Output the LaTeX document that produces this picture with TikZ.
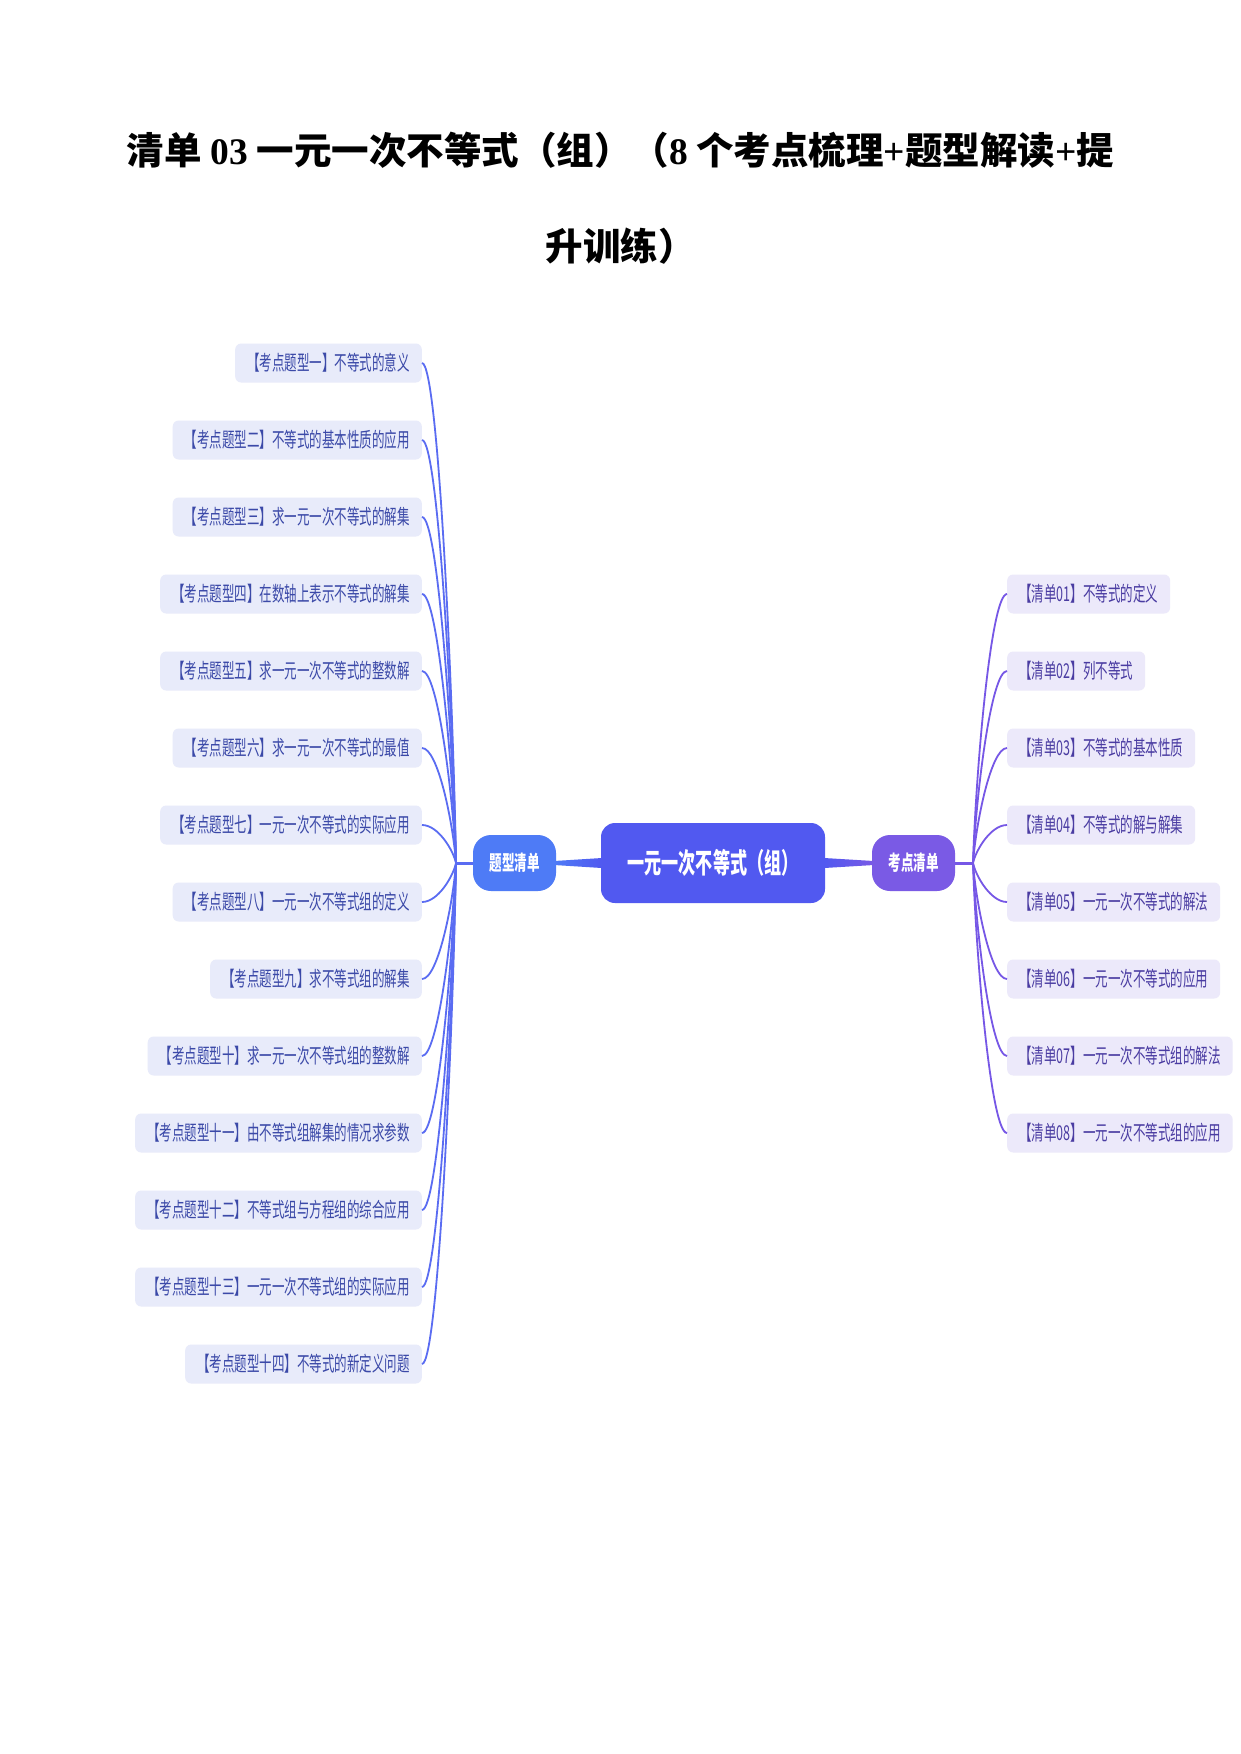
\documentclass[tikz,border=0pt]{standalone}
\usepackage{fontspec}
\usetikzlibrary{calc}
\newfontfamily\cjkt{Noto Sans CJK SC}
\newfontfamily\cjkc[FakeStretch=0.61]{Noto Sans CJK SC}
\newfontfamily\serift{Liberation Serif}
\definecolor{centrecol}{HTML}{5159F0}
\definecolor{tcol}{HTML}{4E7BF6}
\definecolor{kcol}{HTML}{7A5AE5}
\definecolor{lline}{HTML}{5A6CF2}
\definecolor{rline}{HTML}{7657E6}
\definecolor{lfill}{HTML}{E8EBFA}
\definecolor{rfill}{HTML}{ECE9FA}
\definecolor{ltext}{HTML}{3B49A8}
\definecolor{rtext}{HTML}{4A3CA2}
\tikzset{
  titlestyle/.style={font=\cjkt\bfseries\fontsize{37.5}{40}\selectfont, inner sep=0pt, text=black},
  centrestyle/.style={fill=centrecol, text=white, rounded corners=14pt, minimum width=224pt, minimum height=80pt, inner sep=0pt, font=\cjkc\bfseries\fontsize{28}{30}\selectfont},
  branchstyle/.style={text=white, rounded corners=18pt, minimum width=83pt, minimum height=56pt, inner sep=0pt, font=\cjkc\bfseries\fontsize{20.5}{22}\selectfont},
  lbox/.style={fill=lfill, text=ltext, rounded corners=6pt, minimum height=39pt, inner ysep=0pt, inner xsep=12pt, font=\cjkc\fontsize{20.5}{22}\selectfont, anchor=east},
  rbox/.style={fill=rfill, text=rtext, rounded corners=6pt, minimum height=39pt, inner ysep=0pt, inner xsep=12pt, font=\cjkc\fontsize{20.5}{22}\selectfont, anchor=west},
  lconn/.style={draw=lline, line width=1.8pt},
  rconn/.style={draw=rline, line width=1.8pt},
}
\begin{document}
\begin{tikzpicture}[x=1pt,y=-1pt]
\useasboundingbox (0,0) rectangle (1241,1754);
\fill[white] (0,0) rectangle (1241,1754);

\node[titlestyle] (t1) at (620.5,150) {清单 {\serift\bfseries 03} 一元一次不等式（组）（{\serift\bfseries 8} 个考点梳理{\serift\bfseries +}题型解读{\serift\bfseries +}提};
\node[titlestyle] (t2) at (620.5,246) {升训练）};

\node[centrestyle] (C) at (713,863) {一元一次不等式（组）};
\node[branchstyle, fill=tcol] (T) at (514.5,863) {题型清单};
\node[branchstyle, fill=kcol] (K) at (913.5,863) {考点清单};

\coordinate (JL) at (456,863);
\coordinate (JR) at (973,863);

\shade[left color=tcol, right color=centrecol] ($(T.east)+(-2,-2)$) -- ($(C.west)+(1,-5)$) -- ($(C.west)+(1,5)$) -- ($(T.east)+(-2,2)$) -- cycle;
\shade[left color=centrecol, right color=kcol] ($(C.east)+(-1,-5)$) -- ($(K.west)+(2,-2)$) -- ($(K.west)+(2,2)$) -- ($(C.east)+(-1,5)$) -- cycle;

\draw[lconn, line width=3pt] (T.west) -- (JL);
\draw[rconn, line width=3pt] (K.east) -- (JR);

\foreach \i/\txt in {
 1/{【考点题型一】不等式的意义},
 2/{【考点题型二】不等式的基本性质的应用},
 3/{【考点题型三】求一元一次不等式的解集},
 4/{【考点题型四】在数轴上表示不等式的解集},
 5/{【考点题型五】求一元一次不等式的整数解},
 6/{【考点题型六】求一元一次不等式的最值},
 7/{【考点题型七】一元一次不等式的实际应用},
 8/{【考点题型八】一元一次不等式组的定义},
 9/{【考点题型九】求不等式组的解集},
 10/{【考点题型十】求一元一次不等式组的整数解},
 11/{【考点题型十一】由不等式组解集的情况求参数},
 12/{【考点题型十二】不等式组与方程组的综合应用},
 13/{【考点题型十三】一元一次不等式组的实际应用},
 14/{【考点题型十四】不等式的新定义问题}} {
  \pgfmathsetmacro\yy{363+77*(\i-1)}
  \pgfmathsetmacro\dy{(\yy-863)*0.35}
  \node[lbox] (L\i) at (422,\yy) {\txt};
  \draw[lconn] (L\i.east) .. controls ($(L\i.east)+(16,0)$) and ($(JL)+(-3,\dy)$) .. (JL);
}

\foreach \i/\txt in {
 1/{【清单01】不等式的定义},
 2/{【清单02】列不等式},
 3/{【清单03】不等式的基本性质},
 4/{【清单04】不等式的解与解集},
 5/{【清单05】一元一次不等式的解法},
 6/{【清单06】一元一次不等式的应用},
 7/{【清单07】一元一次不等式组的解法},
 8/{【清单08】一元一次不等式组的应用}} {
  \pgfmathsetmacro\yy{594+77*(\i-1)}
  \pgfmathsetmacro\dy{(\yy-863)*0.35}
  \node[rbox] (R\i) at (1007,\yy) {\txt};
  \draw[rconn] (R\i.west) .. controls ($(R\i.west)+(-16,0)$) and ($(JR)+(3,\dy)$) .. (JR);
}
\end{tikzpicture}
\end{document}
